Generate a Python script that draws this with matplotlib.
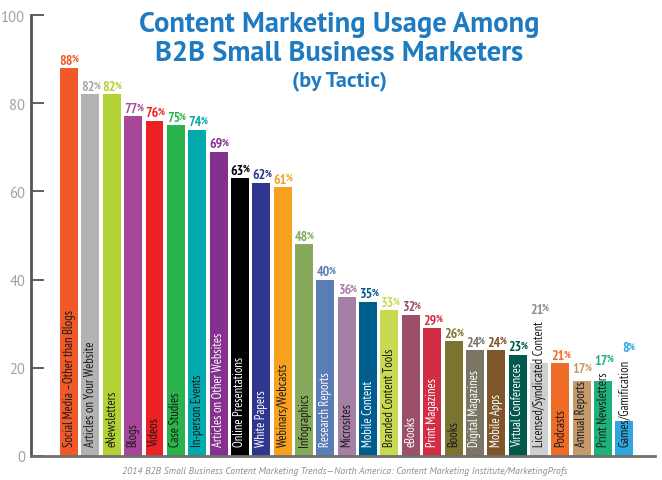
import matplotlib.pyplot as plt

categories = [
    "Social Media \u2013Other than Blogs", "Articles on Your Website", "eNewsletters",
    "Blogs", "Videos", "Case Studies", "In-person Events", "Articles on Other Websites",
    "Online Presentations", "White Papers", "Webinars/Webcasts", "Infographics",
    "Research Reports", "Microsites", "Mobile Content", "Branded Content Tools",
    "eBooks", "Print Magazines", "Books", "Digital Magazines", "Mobile Apps",
    "Virtual Conferences", "Licensed/Syndicated Content", "Podcasts",
    "Annual Reports", "Print Newsletters", "Games/Gamification",
]
values = [88, 82, 82, 77, 76, 75, 74, 69, 63, 62, 61, 48, 40, 36, 35, 33,
          32, 29, 26, 24, 24, 23, 21, 21, 17, 17, 8]
bar_colors = [
    "#F05A28", "#B3B3B3", "#B2D235", "#A8479A", "#ED2024", "#2AB34B", "#00A9AC",
    "#83308F", "#000000", "#2E368F", "#F7A11F", "#86A95A", "#5A7DB5", "#A57FA6",
    "#005E8E", "#C8D952", "#9B5068", "#D12D45", "#7C7530", "#7A7565", "#7F5629",
    "#00594A", "#CFCFCF", "#EE6C25", "#C49A6C", "#1EB27A", "#2FA6E0",
]
label_colors = list(bar_colors)
label_colors[1] = "#A8A8A8"
label_colors[22] = "#8C8C8C"
white_text = {"Articles on Other Websites", "Online Presentations", "White Papers",
              "Research Reports", "Mobile Content", "eBooks", "Print Magazines",
              "Digital Magazines", "Mobile Apps", "Virtual Conferences"}
yticks = [0, 20, 40, 60, 80, 100]

narrow = ["PT Sans Narrow", "DejaVu Sans"]
humanist = ["PT Sans", "DejaVu Sans"]

fig = plt.figure(figsize=(6.62, 4.81), dpi=100)
ax = fig.add_axes([31 / 662, 24 / 481, 624 / 662, 441 / 481])

x = list(range(len(values)))
ax.bar(x, values, width=0.84, color=bar_colors, zorder=2)

ax.set_xlim(-1.78, len(values) - 1 + 1.43)
ax.set_ylim(0, 100)
ax.set_yticks(yticks)
ax.set_yticklabels([str(t) for t in yticks], color="#9CA2AA", fontsize=10.5,
                   family=humanist)
ax.tick_params(axis="y", direction="in", length=9, width=1.2, color="#444444", pad=4)
ax.set_xticks([])
for side in ["top", "right"]:
    ax.spines[side].set_visible(False)
ax.spines["left"].set_color("#555555")
ax.spines["left"].set_linewidth(2)
ax.spines["bottom"].set_color("#6E6E6E")
ax.spines["bottom"].set_linewidth(2)

# category names written inside the bars
name_texts = []
for i, name in enumerate(categories):
    c = "white" if name in white_text else "#1A1A1A"
    t = ax.text(i, 2.2, name, rotation=90, ha="center", va="bottom",
                fontsize=9, color=c, family=narrow, zorder=3)
    name_texts.append(t)

fig.canvas.draw()
renderer = fig.canvas.get_renderer()
inv = ax.transData.inverted()

# value labels above bars (or above text that sticks out)
for i, v in enumerate(values):
    bb = name_texts[i].get_window_extent(renderer)
    text_top = inv.transform((0, bb.y1))[1]
    y = v if text_top < v else text_top + 0.8
    ax.annotate(str(v), (i, y), xytext=(3, 1), textcoords="offset points",
                ha="right", va="bottom", fontsize=10, fontweight="bold",
                color=label_colors[i], family=narrow)
    ax.annotate("%", (i, y), xytext=(2.2, 3.5), textcoords="offset points",
                ha="left", va="bottom", fontsize=7, fontweight="bold",
                color=label_colors[i], family=narrow)

title_color = "#1F7BC1"
fig.text(339 / 662, 1 - 25 / 481, "Content Marketing Usage Among",
         ha="center", va="center", fontsize=20.5, fontweight="bold",
         color=title_color, family=humanist)
fig.text(339 / 662, 1 - 54 / 481, "B2B Small Business Marketers",
         ha="center", va="center", fontsize=20.5, fontweight="bold",
         color=title_color, family=humanist)
fig.text(339 / 662, 1 - 81 / 481, "(by Tactic)",
         ha="center", va="center", fontsize=16, fontweight="bold",
         color=title_color, family=humanist)

fig.text(345 / 662, 1 - 472 / 481,
         "2014 B2B Small Business Content Marketing Trends\u2014North America: "
         "Content Marketing Institute/MarketingProfs",
         ha="center", va="center", fontsize=7, style="italic", color="#8E8E8E",
         family=humanist)

fig.savefig("out.png", dpi=100)
